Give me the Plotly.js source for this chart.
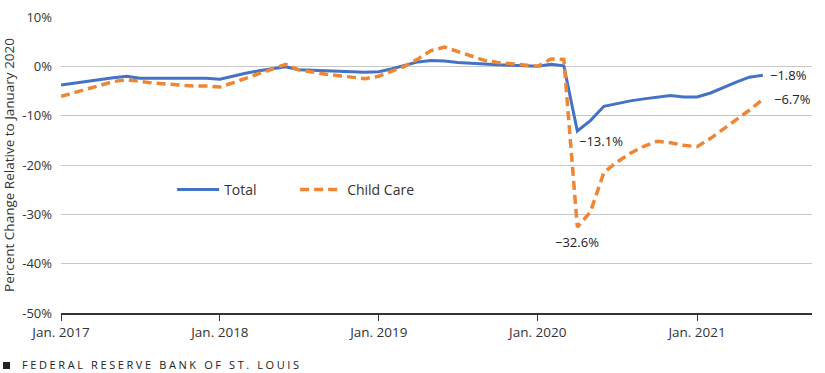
<!DOCTYPE html>
<html>
<head>
<meta charset="utf-8">
<script src="https://cdn.plot.ly/plotly-3.0.1.min.js"></script>
<style>
html, body { margin: 0; padding: 0; background: #fff; }
#wrap { position: relative; width: 825px; height: 373px; }
#chart { width: 825px; height: 373px; }
#footer {
  position: absolute; left: 3px; top: 357px;
  font-family: 'Open Sans', Lato, sans-serif; font-size: 11px; line-height: 16px;
  letter-spacing: 2.6px; color: #222; white-space: nowrap;
}
#footer .sq { display: inline-block; width: 7px; height: 7px; background: #222; margin-right: 12px; vertical-align: 0px; }
</style>
</head>
<body>
<div id="wrap">
<div id="chart"></div>
<div id="footer"><span class="sq"></span>FEDERAL RESERVE BANK OF ST. LOUIS</div>
</div>
<script>
// Monthly, Jan 2017 – Jun 2021
const months = [];
for (let y = 2017; y <= 2021; y++) {
  for (let m = 1; m <= 12; m++) {
    if (y === 2021 && m > 6) break;
    months.push(y + '-' + String(m).padStart(2, '0') + '-01');
  }
}

const totalChange = [
  -3.8, -3.4, -3.0, -2.7, -2.3, -2.0, -2.4, -2.4, -2.4, -2.4, -2.4, -2.4,
  -2.6, -1.9, -1.4, -0.9, -0.5, -0.1, -0.7, -0.8, -0.9, -1.0, -1.1, -1.2,
  -1.1, -0.5, 0.2, 0.9, 1.2, 1.1, 0.8, 0.6, 0.4, 0.3, 0.2, 0.1,
  0.0, 0.4, 0.1, -13.1, -11.0, -8.1, -7.5, -7.0, -6.6, -6.2, -5.9, -6.2,
  -6.2, -5.4, -4.3, -3.2, -2.2, -1.8
];

const childCareChange = [
  -6.1, -5.3, -4.6, -3.9, -3.1, -2.7, -3.1, -3.4, -3.6, -3.8, -4.0, -4.0,
  -4.2, -3.3, -2.4, -1.5, -0.6, 0.4, -0.7, -1.2, -1.6, -1.9, -2.2, -2.5,
  -2.0, -1.0, 0.0, 1.5, 3.2, 3.9, 3.0, 2.0, 1.2, 0.8, 0.5, 0.2,
  0.0, 1.5, 1.4, -32.6, -29.5, -21.5, -19.4, -17.6, -16.2, -15.2, -15.5, -16.0,
  -16.3, -14.6, -12.7, -10.8, -8.9, -6.7
];

const seriesNames = ['Total', 'Child Care'];
const yTickVals = [10, 0, -10, -20, -30, -40, -50];
const yTickText = ['10%', '0%', '-10%', '-20%', '-30%', '-40%', '-50%'];
const xTickVals = ['2017-01-01', '2018-01-01', '2019-01-01', '2020-01-01', '2021-01-01'];
const xTickText = ['Jan. 2017', 'Jan. 2018', 'Jan. 2019', 'Jan. 2020', 'Jan. 2021'];

const FONT = 'Open Sans, Lato, sans-serif';
const BLUE = '#4472C4';
const ORANGE = '#F08634';

const fmt = v => '\u2212' + Math.abs(v).toFixed(1) + '%';

const last = months.length - 1;
const iTotMin = totalChange.indexOf(Math.min(...totalChange));
const iCcMin = childCareChange.indexOf(Math.min(...childCareChange));

const traces = [
  {
    x: months, y: totalChange, name: seriesNames[0], type: 'scatter', mode: 'lines',
    line: { color: BLUE, width: 3 }, hoverinfo: 'x+y'
  },
  {
    x: months, y: childCareChange, name: seriesNames[1], type: 'scatter', mode: 'lines',
    line: { color: ORANGE, width: 3.5, dash: '9px,5px' }, hoverinfo: 'x+y'
  }
];

const annFont = { family: FONT, size: 13, color: '#222' };
const layout = {
  width: 825, height: 373,
  margin: { l: 61, r: 13, t: 17, b: 60 },
  paper_bgcolor: '#fff', plot_bgcolor: '#fff',
  font: { family: FONT, size: 13, color: '#333' },
  showlegend: true,
  legend: {
    orientation: 'h', x: 0.148, xanchor: 'left', y: 0.416, yanchor: 'middle',
    font: { family: FONT, size: 14, color: '#333' },
    bgcolor: 'rgba(0,0,0,0)', itemwidth: 42, tracegroupgap: 0,
    entrywidth: 66, entrywidthmode: 'pixels'
  },
  xaxis: {
    type: 'date',
    range: ['2017-01-01', '2021-09-22'],
    tickvals: xTickVals, ticktext: xTickText,
    ticks: 'outside', ticklen: 6, tickcolor: '#333', tickwidth: 1,
    showline: true, linecolor: '#333', linewidth: 1.5,
    showgrid: false, zeroline: false,
    tickfont: { family: FONT, size: 13.5, color: '#333' }
  },
  yaxis: {
    range: [-50, 10],
    tickvals: yTickVals, ticktext: yTickText,
    showgrid: true, gridcolor: '#c8c8c8', gridwidth: 1,
    zeroline: false, showline: false, ticks: '',
    ticklabelstandoff: 8,
    tickfont: { family: FONT, size: 13, color: '#333' },
    title: { text: 'Percent Change Relative to January 2020', font: { family: FONT, size: 13.5, color: '#333' }, standoff: 8 }
  },
  annotations: [
    { x: months[last], y: totalChange[last], xref: 'x', yref: 'y', text: fmt(totalChange[last]),
      showarrow: false, xanchor: 'left', yanchor: 'middle', xshift: 5, font: annFont },
    { x: months[last], y: childCareChange[last], xref: 'x', yref: 'y', text: fmt(childCareChange[last]),
      showarrow: false, xanchor: 'left', yanchor: 'middle', xshift: 9, font: annFont },
    { x: months[iTotMin], y: totalChange[iTotMin], xref: 'x', yref: 'y', text: fmt(totalChange[iTotMin]),
      showarrow: false, xanchor: 'left', yanchor: 'middle', xshift: 0, yshift: -10, font: annFont },
    { x: months[iCcMin], y: childCareChange[iCcMin], xref: 'x', yref: 'y', text: fmt(childCareChange[iCcMin]),
      showarrow: false, xanchor: 'center', yanchor: 'middle', xshift: 0, yshift: -15, font: annFont }
  ]
};

Plotly.newPlot('chart', traces, layout, { displayModeBar: false, staticPlot: true });
</script>
</body>
</html>
